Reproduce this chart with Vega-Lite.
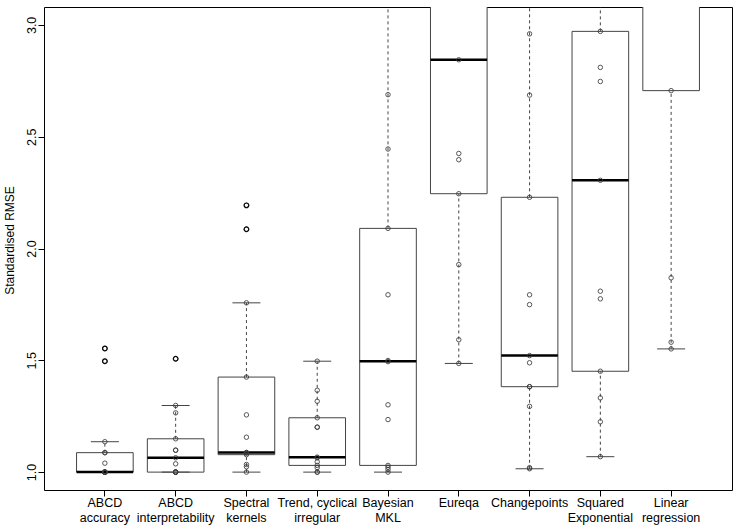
{
  "$schema": "https://vega.github.io/schema/vega-lite/v6.json",
  "width": 688,
  "height": 483,
  "autosize": {"type": "none"},
  "padding": {"left": 44, "top": 7, "right": 9, "bottom": 41},
  "background": "white",
  "config": {
    "font": "Liberation Sans",
    "view": {"stroke": "#000000", "strokeWidth": 1},
    "axis": {"grid": false, "domain": false, "tickColor": "#000000", "tickSize": 6, "labelColor": "#000000", "titleColor": "#000000", "labelFont": "Liberation Sans", "titleFont": "Liberation Sans", "titleFontWeight": "normal"}
  },
  "datasets": {
    "points": [
      {"method": "ABCD\naccuracy", "value": 1.0}, {"method": "ABCD\naccuracy", "value": 1.0}, {"method": "ABCD\naccuracy", "value": 1.0}, {"method": "ABCD\naccuracy", "value": 1.0}, {"method": "ABCD\naccuracy", "value": 1.0}, {"method": "ABCD\naccuracy", "value": 1.0}, {"method": "ABCD\naccuracy", "value": 1.0}, {"method": "ABCD\naccuracy", "value": 1.04}, {"method": "ABCD\naccuracy", "value": 1.087}, {"method": "ABCD\naccuracy", "value": 1.087}, {"method": "ABCD\naccuracy", "value": 1.136}, {"method": "ABCD\naccuracy", "value": 1.496}, {"method": "ABCD\naccuracy", "value": 1.553},
      {"method": "ABCD\ninterpretability", "value": 1.0}, {"method": "ABCD\ninterpretability", "value": 1.0}, {"method": "ABCD\ninterpretability", "value": 1.0}, {"method": "ABCD\ninterpretability", "value": 1.0}, {"method": "ABCD\ninterpretability", "value": 1.0}, {"method": "ABCD\ninterpretability", "value": 1.037}, {"method": "ABCD\ninterpretability", "value": 1.064}, {"method": "ABCD\ninterpretability", "value": 1.098}, {"method": "ABCD\ninterpretability", "value": 1.098}, {"method": "ABCD\ninterpretability", "value": 1.149}, {"method": "ABCD\ninterpretability", "value": 1.265}, {"method": "ABCD\ninterpretability", "value": 1.298}, {"method": "ABCD\ninterpretability", "value": 1.507},
      {"method": "Spectral\nkernels", "value": 1.0}, {"method": "Spectral\nkernels", "value": 1.024}, {"method": "Spectral\nkernels", "value": 1.034}, {"method": "Spectral\nkernels", "value": 1.078}, {"method": "Spectral\nkernels", "value": 1.085}, {"method": "Spectral\nkernels", "value": 1.087}, {"method": "Spectral\nkernels", "value": 1.088}, {"method": "Spectral\nkernels", "value": 1.156}, {"method": "Spectral\nkernels", "value": 1.256}, {"method": "Spectral\nkernels", "value": 1.425}, {"method": "Spectral\nkernels", "value": 1.757}, {"method": "Spectral\nkernels", "value": 2.086}, {"method": "Spectral\nkernels", "value": 2.193},
      {"method": "Trend, cyclical\nirregular", "value": 1.0}, {"method": "Trend, cyclical\nirregular", "value": 1.0}, {"method": "Trend, cyclical\nirregular", "value": 1.02}, {"method": "Trend, cyclical\nirregular", "value": 1.03}, {"method": "Trend, cyclical\nirregular", "value": 1.046}, {"method": "Trend, cyclical\nirregular", "value": 1.064}, {"method": "Trend, cyclical\nirregular", "value": 1.067}, {"method": "Trend, cyclical\nirregular", "value": 1.201}, {"method": "Trend, cyclical\nirregular", "value": 1.201}, {"method": "Trend, cyclical\nirregular", "value": 1.243}, {"method": "Trend, cyclical\nirregular", "value": 1.317}, {"method": "Trend, cyclical\nirregular", "value": 1.366}, {"method": "Trend, cyclical\nirregular", "value": 1.496},
      {"method": "Bayesian\nMKL", "value": 1.0}, {"method": "Bayesian\nMKL", "value": 1.012}, {"method": "Bayesian\nMKL", "value": 1.022}, {"method": "Bayesian\nMKL", "value": 1.03}, {"method": "Bayesian\nMKL", "value": 1.235}, {"method": "Bayesian\nMKL", "value": 1.301}, {"method": "Bayesian\nMKL", "value": 1.494}, {"method": "Bayesian\nMKL", "value": 1.499}, {"method": "Bayesian\nMKL", "value": 1.793}, {"method": "Bayesian\nMKL", "value": 2.09}, {"method": "Bayesian\nMKL", "value": 2.445}, {"method": "Bayesian\nMKL", "value": 2.688}, {"method": "Bayesian\nMKL", "value": 3.4},
      {"method": "Eureqa", "value": 1.486}, {"method": "Eureqa", "value": 1.592}, {"method": "Eureqa", "value": 1.928}, {"method": "Eureqa", "value": 2.245}, {"method": "Eureqa", "value": 2.397}, {"method": "Eureqa", "value": 2.425}, {"method": "Eureqa", "value": 2.844}, {"method": "Eureqa", "value": 3.3}, {"method": "Eureqa", "value": 3.6}, {"method": "Eureqa", "value": 4.0}, {"method": "Eureqa", "value": 4.5}, {"method": "Eureqa", "value": 5.0}, {"method": "Eureqa", "value": 6.0},
      {"method": "Changepoints", "value": 1.015}, {"method": "Changepoints", "value": 1.02}, {"method": "Changepoints", "value": 1.294}, {"method": "Changepoints", "value": 1.382}, {"method": "Changepoints", "value": 1.382}, {"method": "Changepoints", "value": 1.489}, {"method": "Changepoints", "value": 1.521}, {"method": "Changepoints", "value": 1.749}, {"method": "Changepoints", "value": 1.793}, {"method": "Changepoints", "value": 2.229}, {"method": "Changepoints", "value": 2.686}, {"method": "Changepoints", "value": 2.96}, {"method": "Changepoints", "value": 3.3},
      {"method": "Squared\nExponential", "value": 1.069}, {"method": "Squared\nExponential", "value": 1.225}, {"method": "Squared\nExponential", "value": 1.332}, {"method": "Squared\nExponential", "value": 1.451}, {"method": "Squared\nExponential", "value": 1.775}, {"method": "Squared\nExponential", "value": 1.809}, {"method": "Squared\nExponential", "value": 2.305}, {"method": "Squared\nExponential", "value": 2.747}, {"method": "Squared\nExponential", "value": 2.81}, {"method": "Squared\nExponential", "value": 2.971}, {"method": "Squared\nExponential", "value": 3.3}, {"method": "Squared\nExponential", "value": 3.8}, {"method": "Squared\nExponential", "value": 4.5},
      {"method": "Linear\nregression", "value": 1.551}, {"method": "Linear\nregression", "value": 1.581}, {"method": "Linear\nregression", "value": 1.869}, {"method": "Linear\nregression", "value": 2.706}, {"method": "Linear\nregression", "value": 3.2}, {"method": "Linear\nregression", "value": 3.5}, {"method": "Linear\nregression", "value": 3.8}, {"method": "Linear\nregression", "value": 4.0}, {"method": "Linear\nregression", "value": 4.3}, {"method": "Linear\nregression", "value": 4.6}, {"method": "Linear\nregression", "value": 5.0}, {"method": "Linear\nregression", "value": 5.5}, {"method": "Linear\nregression", "value": 6.0}
    ],
    "stats": [
      {"method": "ABCD\naccuracy", "lo": 1.0, "q1": 1.0, "median": 1.0, "q3": 1.087, "hi": 1.136},
      {"method": "ABCD\ninterpretability", "lo": 1.0, "q1": 1.0, "median": 1.064, "q3": 1.149, "hi": 1.298},
      {"method": "Spectral\nkernels", "lo": 1.0, "q1": 1.078, "median": 1.088, "q3": 1.425, "hi": 1.757},
      {"method": "Trend, cyclical\nirregular", "lo": 1.0, "q1": 1.03, "median": 1.067, "q3": 1.243, "hi": 1.496},
      {"method": "Bayesian\nMKL", "lo": 1.0, "q1": 1.03, "median": 1.496, "q3": 2.09, "hi": 3.4},
      {"method": "Eureqa", "lo": 1.486, "q1": 2.245, "median": 2.844, "q3": 4.0, "hi": 6.0},
      {"method": "Changepoints", "lo": 1.015, "q1": 1.382, "median": 1.521, "q3": 2.229, "hi": 3.3},
      {"method": "Squared\nExponential", "lo": 1.069, "q1": 1.451, "median": 2.305, "q3": 2.971, "hi": 4.5},
      {"method": "Linear\nregression", "lo": 1.551, "q1": 2.706, "median": 3.8, "q3": 4.3, "hi": 6.0}
    ],
    "outliers": [
      {"method": "ABCD\naccuracy", "value": 1.496}, {"method": "ABCD\naccuracy", "value": 1.553},
      {"method": "ABCD\ninterpretability", "value": 1.507},
      {"method": "Spectral\nkernels", "value": 2.086}, {"method": "Spectral\nkernels", "value": 2.193}
    ]
  },
  "encoding": {
    "x": {
      "field": "method", "type": "nominal",
      "scale": {"domain": ["ABCD\naccuracy", "ABCD\ninterpretability", "Spectral\nkernels", "Trend, cyclical\nirregular", "Bayesian\nMKL", "Eureqa", "Changepoints", "Squared\nExponential", "Linear\nregression"], "paddingInner": 0, "paddingOuter": 0.36},
      "axis": {"title": null, "labelAngle": 0, "labelFontSize": 12.5, "labelLineHeight": 15, "labelBaseline": "middle", "labelPadding": 6, "labelExpr": "split(datum.label, '\\n')"}
    }
  },
  "layer": [
    {
      "data": {"name": "stats"},
      "mark": {"type": "bar", "width": {"band": 0.8}, "fill": "white", "stroke": "#444444", "strokeWidth": 1, "clip": true},
      "encoding": {
        "y": {"field": "q1", "type": "quantitative", "scale": {"domain": [0.92, 3.08], "nice": false, "zero": false},
          "axis": {"title": "Standardised RMSE", "titleFontSize": 12, "titleAngle": -90, "titleX": -31, "titleY": 233, "titleAlign": "center", "titleBaseline": "alphabetic", "values": [1.0, 1.5, 2.0, 2.5, 3.0], "format": ".1f", "labelFontSize": 12.5, "labelAngle": -90, "labelAlign": "center", "labelBaseline": "alphabetic", "labelPadding": 3}},
        "y2": {"field": "q3"}
      }
    },
    {
      "data": {"name": "stats"},
      "mark": {"type": "rule", "stroke": "#444444", "strokeWidth": 1, "strokeDash": [3, 3], "clip": true},
      "encoding": {"y": {"field": "lo", "type": "quantitative"}, "y2": {"field": "q1"}}
    },
    {
      "data": {"name": "stats"},
      "mark": {"type": "rule", "stroke": "#444444", "strokeWidth": 1, "strokeDash": [3, 3], "clip": true},
      "encoding": {"y": {"field": "q3", "type": "quantitative"}, "y2": {"field": "hi"}}
    },
    {
      "data": {"name": "stats"},
      "mark": {"type": "tick", "color": "#444444", "size": 28, "thickness": 1, "clip": true, "opacity": 1},
      "encoding": {"y": {"field": "lo", "type": "quantitative"}}
    },
    {
      "data": {"name": "stats"},
      "mark": {"type": "tick", "color": "#444444", "size": 28, "thickness": 1, "clip": true, "opacity": 1},
      "encoding": {"y": {"field": "hi", "type": "quantitative"}}
    },
    {
      "data": {"name": "stats"},
      "mark": {"type": "tick", "color": "#000000", "size": 56.6, "thickness": 2.5, "clip": true, "opacity": 1},
      "encoding": {"y": {"field": "median", "type": "quantitative"}}
    },
    {
      "data": {"name": "points"},
      "mark": {"type": "point", "shape": "circle", "filled": false, "size": 20, "stroke": "#3a3a3a", "strokeWidth": 1, "opacity": 0.85, "clip": true},
      "encoding": {"y": {"field": "value", "type": "quantitative"}}
    },
    {
      "data": {"name": "outliers"},
      "mark": {"type": "point", "shape": "circle", "filled": false, "size": 22, "stroke": "#000000", "strokeWidth": 1.2, "opacity": 0.9, "clip": true},
      "encoding": {"y": {"field": "value", "type": "quantitative"}}
    }
  ]
}
